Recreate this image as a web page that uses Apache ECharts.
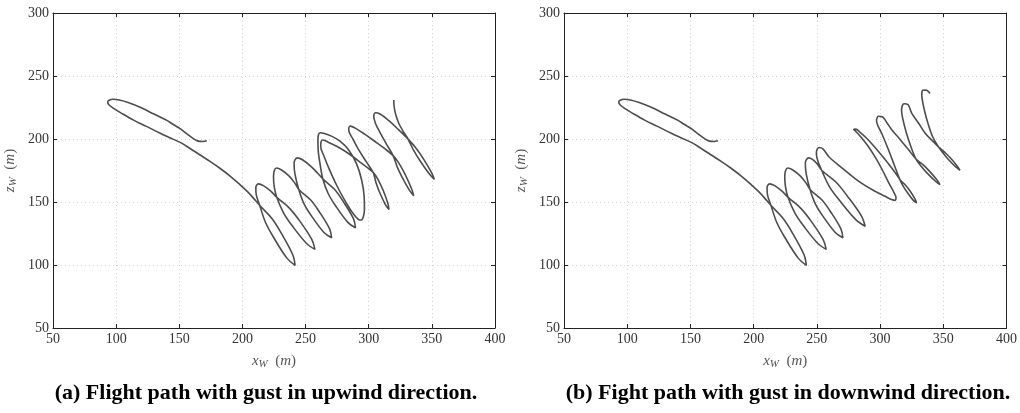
<!DOCTYPE html>
<html>
<head>
<meta charset="utf-8">
<script src="https://cdn.jsdelivr.net/npm/echarts@6/dist/echarts.min.js"></script>
<style>
  html, body { margin: 0; padding: 0; background: #fff; }
  #chart { width: 1020px; height: 413px; }
</style>
</head>
<body>
<div id="chart"></div>
<script>
// tick values shared by both panels
var xTicks = [50, 100, 150, 200, 250, 300, 350, 400];
var zTicks = [50, 100, 150, 200, 250, 300];

// glide before the loops (same in both runs)
var approachPath = [
    [171.8, 198.6], [168.5, 198.0], [165, 198.3], [161.2, 200.3], [156, 204], [150.7, 208.2],
    [145, 211.7], [140.2, 214.8], [130, 219.8], [119, 225.2], [110, 228.8], [102.5, 231],
    [97.5, 231.5], [94.5, 230.8], [93.3, 229.4], [94.3, 227.2], [98, 224.3], [105, 220],
    [113.8, 215], [124, 210], [134.9, 204.5], [142.5, 201], [150.7, 197.3], [158.5, 192.5],
    [166.5, 187.3], [174.6, 182], [182.4, 176.6], [190, 170.8], [198.2, 163.6], [204, 158.2],
    [208.7, 153.1], [214, 147]
];

// first three loops (same in both runs)
var firstLoops = [
    [223.5, 136.7], [230.85, 125.1], [239.85, 108.15], [241.7, 99.7], [235.25, 105.45],
    [224.85, 121.6], [218.3, 133.7], [213.6, 147.6], [211, 155.5], [210.6, 161.3], [212.6, 164.4],
    [216.6, 163], [222, 159], [227.5, 153.5], [237.35, 144.95], [245.3, 135], [255, 120.15],
    [257.4, 112.4], [250.8, 117.05], [239.6, 130.9], [232.55, 141.45], [227.1, 154], [225.2, 162],
    [224.6, 170], [225.2, 174.8], [227, 177],
    [231, 175.4], [237, 170.5], [241.5, 165], [245, 159.5], [253.9, 151.75], [260.7, 142.5],
    [268.95, 128.8], [270.6, 121.6], [264.55, 125.8], [254.9, 138.6], [248.9, 148.35], [244.6, 160],
    [241.5, 172.8], [240.9, 180.7], [241.6, 183.5], [243.5, 185]
];

// gust upwind: remaining loops
var upwindLoops = [
    [247.5, 183.5], [254, 178.5], [259.5, 173], [264, 168], [272.9, 160.05], [279.65, 150.65],
    [287.9, 136.75], [289.5, 129.5], [283.5, 133.85], [273.85, 146.85], [267.9, 156.75],
    [263.6, 168.5], [261.5, 180], [260, 191], [259.8, 199], [260.2, 203.3], [261.5, 205],
    [265, 204.3], [270, 202.5], [277, 198.5], [284, 191.5], [290.3, 180.5], [294.4, 167.5],
    [296.4, 154], [296.6, 144], [295.8, 138.5], [294.2, 135.7], [291.5, 136.5], [287.5, 141],
    [281.5, 150.5], [275, 162.5], [269, 175.5], [264.5, 186.5], [262, 194], [262.2, 197.6],
    [263.5, 199.2],
    [267.5, 197.7], [275, 194], [284, 188.5], [294, 181], [304, 173], [308.2, 166.25],
    [311.5, 159.1], [315.2, 148.75], [316, 144], [313.2, 147.95], [308.5, 157.9], [305.8, 165.25],
    [303.5, 173.5], [298, 182], [292, 191.5], [287.5, 200], [284.5, 205.5], [284.2, 208.5],
    [285.5, 210.2],
    [289, 208.8], [296.5, 204], [305, 198], [312.5, 192.5], [319.8, 186.3], [324.95, 179.1],
    [329.1, 171.35], [334.1, 160.15], [335.6, 155], [332.3, 159.25], [326.3, 169.95],
    [322.55, 177.9], [319.3, 186.8], [314, 196], [309, 205], [305.3, 212.5], [304, 218],
    [305.3, 220.8],
    [309, 219.8], [316, 214.5], [324, 207], [331.6, 199.5], [337.8, 192.3], [343.1, 184.6],
    [349.75, 173.25], [352, 168], [348.05, 172.15], [340.5, 182.9], [335.6, 190.9], [331.1, 200],
    [327, 206.5], [323.7, 212.7], [321.2, 220], [320.1, 226], [319.8, 231]
];

// gust downwind: remaining loops
var downwindLoops = [
    [246.5, 183.8], [250, 180.5], [254, 175], [265.05, 165.85], [273.9, 155], [285.2, 139],
    [288.2, 130.8], [281, 135.8], [268.3, 150.8], [260.05, 162.05], [253.6, 175.6],
    [250.8, 182.5], [249.6, 188.5], [250.3, 192], [252, 193.2],
    [255, 192], [259.7, 185.7], [270.3, 176.7], [283.4, 166.2], [296.6, 158.2], [304, 154.5],
    [309, 152], [311.8, 151.3], [312.6, 153.5], [311, 157.5], [307, 165], [302, 175],
    [296.5, 185], [290, 195], [284.5, 202], [281, 205.8], [279.2, 207.6], [280.8, 207.8],
    [284, 205.5], [289, 201], [295, 194.5], [303, 185], [310, 176], [316, 167.5], [320, 163.5],
    [323.45, 159.1], [327.7, 152.3], [328.9, 149.3], [326.3, 151.3], [321.45, 157.7],
    [318.4, 162.4], [315.6, 168], [311, 180], [306, 193], [301.5, 204], [298.3, 210.5],
    [297.2, 214.5], [298.7, 218],
    [301.8, 217.6], [305, 213.5], [309.2, 207.4], [315.5, 200], [322.4, 191.6], [328.5, 184],
    [333.9, 179.6], [338.85, 174.7], [345.2, 167.35], [347.4, 163.8], [344, 166.25],
    [337.05, 173.1], [332.5, 178.3], [328, 184.8], [324, 195], [320.5, 206], [318, 216],
    [317, 222.5], [317.6, 226.5], [319, 228],
    [322, 227.4], [325, 220.6], [330.5, 212.5], [335.5, 204.8], [341, 199], [346, 194],
    [350.8, 189.75], [355.35, 185.3], [361.1, 178.45], [363.2, 175.2], [360.1, 177.55],
    [353.85, 183.9], [349.8, 188.85], [345.5, 194.8], [341.5, 202], [338, 212], [335.5, 221],
    [333.7, 229.5], [333, 235], [333.8, 238.6], [336.5, 238.8], [338.5, 237.4], [339.5, 236]
];

var captions = [
    '(a) Flight path with gust in upwind direction.',
    '(b) Fight path with gust in downwind direction.'
];

var serif = '"Liberation Serif", "DejaVu Serif", serif';
var axisColor = '#222';

var nameRich = {
    v: { fontFamily: serif, fontSize: 15, color: '#555' },
    i: { fontFamily: serif, fontSize: 15, fontStyle: 'italic', color: '#555' },
    s: { fontFamily: serif, fontSize: 11, fontStyle: 'italic', color: '#555', padding: [7, 0, 0, 0] }
};

function mainX(grid) {
    return {
        type: 'value', gridIndex: grid, min: 50, max: 400, interval: 50,
        name: '{i|x}{s|W}{v|  (}{i|m}{v|)}', nameLocation: 'middle', nameGap: 24,
        nameTextStyle: { rich: nameRich },
        axisLine: { show: true, lineStyle: { color: axisColor, width: 1 } },
        axisTick: { inside: true, length: 4, lineStyle: { color: axisColor } },
        axisLabel: { fontFamily: serif, fontSize: 14, color: '#333', margin: 4 },
        splitLine: { show: true, lineStyle: { color: '#d4d4d4', type: [1, 3], width: 1 } }
    };
}
function sideX(grid) {
    return {
        type: 'value', gridIndex: grid, min: 50, max: 400, interval: 50, position: 'top',
        axisLine: { show: true, lineStyle: { color: axisColor, width: 1 } },
        axisTick: { inside: true, length: 4, lineStyle: { color: axisColor } },
        axisLabel: { show: false }, splitLine: { show: false }
    };
}
function mainY(grid) {
    return {
        type: 'value', gridIndex: grid, min: 50, max: 300, interval: 50,
        name: '{i|z}{s|W}{v|  (}{i|m}{v|)}', nameLocation: 'middle', nameGap: 34, nameRotate: 90,
        nameTextStyle: { rich: nameRich },
        axisLine: { show: true, lineStyle: { color: axisColor, width: 1 } },
        axisTick: { inside: true, length: 4, lineStyle: { color: axisColor } },
        axisLabel: { fontFamily: serif, fontSize: 14, color: '#333', margin: 4 },
        splitLine: { show: true, lineStyle: { color: '#d4d4d4', type: [1, 3], width: 1 } }
    };
}
function sideY(grid) {
    return {
        type: 'value', gridIndex: grid, min: 50, max: 300, interval: 50, position: 'right',
        axisLine: { show: true, lineStyle: { color: axisColor, width: 1 } },
        axisTick: { inside: true, length: 4, lineStyle: { color: axisColor } },
        axisLabel: { show: false }, splitLine: { show: false }
    };
}

function pathSeries(grid, points) {
    return {
        type: 'line', xAxisIndex: grid * 2, yAxisIndex: grid * 2,
        data: points, smooth: 0.35, showSymbol: false, symbol: 'none',
        lineStyle: { color: '#4d4d4d', width: 1.6 }, clip: true
    };
}

var captionStyle = { fontFamily: serif, fontSize: 22, fontWeight: 'bold', color: '#000' };

var chart = echarts.init(document.getElementById('chart'), null, { renderer: 'canvas' });
chart.setOption({
    animation: false,
    backgroundColor: '#fff',
    title: [
        { text: captions[0], left: 261, top: 377, textAlign: 'center', textStyle: captionStyle },
        { text: captions[1], left: 783, top: 377, textAlign: 'center', textStyle: captionStyle }
    ],
    grid: [
        { left: 53, top: 13, width: 442, height: 315 },
        { left: 564, top: 13, width: 443, height: 315 }
    ],
    xAxis: [mainX(0), sideX(0), mainX(1), sideX(1)],
    yAxis: [mainY(0), sideY(0), mainY(1), sideY(1)],
    series: [
        pathSeries(0, approachPath.concat(firstLoops, upwindLoops)),
        pathSeries(1, approachPath.concat(firstLoops, downwindLoops))
    ]
});
</script>
</body>
</html>
